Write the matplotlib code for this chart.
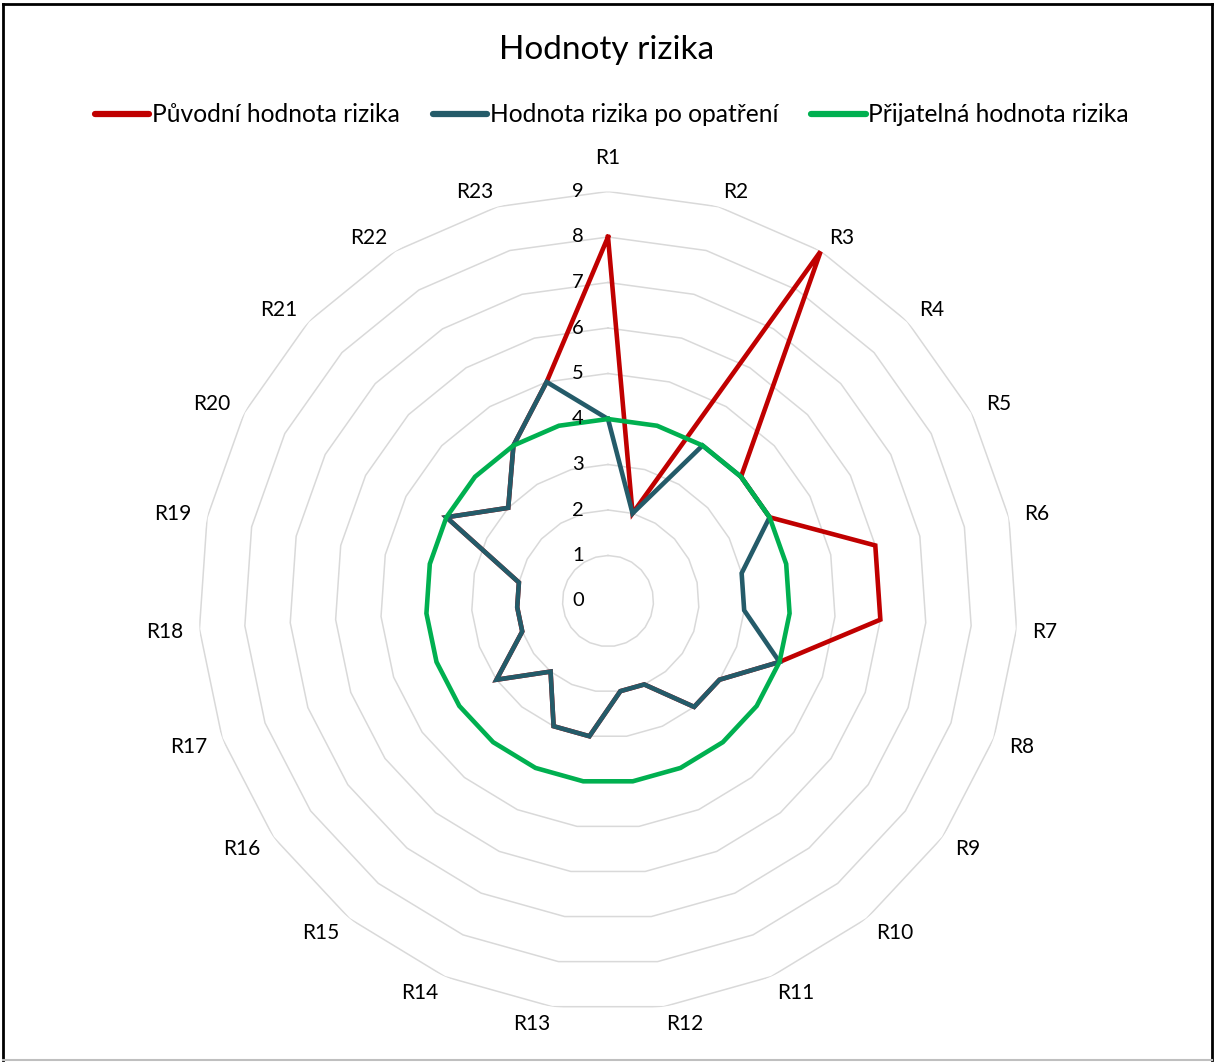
import numpy as np
import matplotlib
matplotlib.use("Agg")
import matplotlib.pyplot as plt
from matplotlib.lines import Line2D

plt.rcParams['font.family'] = ['Lato', 'DejaVu Sans']

# ---- data ----
categories = [f"R{i}" for i in range(1, 24)]
puvodni = [8, 2, 9, 4, 4, 6, 6, 4, 3, 3, 2, 2, 3, 3, 2, 3, 2, 2, 2, 4, 3, 4, 5]
po_opatreni = [4, 2, 4, 4, 4, 3, 3, 4, 3, 3, 2, 2, 3, 3, 2, 3, 2, 2, 2, 4, 3, 4, 5]
prijatelna = [4] * 23
radial_ticks = [0, 1, 2, 3, 4, 5, 6, 7, 8, 9]
series_names = ["Původní hodnota rizika", "Hodnota rizika po opatření",
                "Přijatelná hodnota rizika"]
series_colors = ["#C00000", "#245B69", "#00B050"]

W, H = 1214, 1062
fig = plt.figure(figsize=(W / 100, H / 100), dpi=100)

cx, cy, R = 608, 601, 409.5
ax = fig.add_axes([(cx - R) / W, (H - cy - R) / H, 2 * R / W, 2 * R / H],
                  projection='polar')
ax.set_theta_offset(np.pi / 2)
ax.set_theta_direction(-1)
rmax = max(radial_ticks)
ax.set_ylim(0, rmax)
ax.grid(False)
ax.spines['polar'].set_visible(False)
ax.set_yticks([])
ax.set_xticks([])

n = len(categories)
angles = np.arange(n) * 2 * np.pi / n
closed = np.append(angles, angles[0])

# polygon gridlines
for r in radial_ticks[1:]:
    ax.plot(closed, [r] * (n + 1), color="#D9D9D9", lw=1.1, zorder=1)

# category labels, placed outside the outer ring like Excel does
renderer = fig.canvas.get_renderer()
gap_x, gap_y, half_h = 16.0, 12.0, 4.0
for a, lab in zip(angles, categories):
    t = fig.text(0, 0, lab, fontsize=15)
    w = t.get_window_extent(renderer).width
    t.remove()
    s, c = np.sin(a), np.cos(a)
    fx = np.clip(8 * s, -1, 1)
    fy = np.clip(3 * c, -1, 1)
    dx = gap_x * s + w / 2 * fx
    dy = gap_y * c + half_h * fy - 1
    if abs(s) < 1e-6 and c > 0:
        dy += 18  # clearance for the value-axis labels
    ax.annotate(lab, xy=(a, rmax), xytext=(dx, dy), textcoords='offset pixels',
                ha='center', va='center', fontsize=15, annotation_clip=False)

# radial labels
for r in radial_ticks:
    ax.annotate(str(r), xy=(0, r), xytext=(-30, 0), textcoords='offset pixels',
                ha='center', va='center', fontsize=14.5, color='black', zorder=5)

handles = []
for vals, name, col in zip([puvodni, po_opatreni, prijatelna], series_names, series_colors):
    v = list(vals) + [vals[0]]
    ax.plot(closed, v, color=col, lw=3.3, label=name, zorder=3,
            solid_joinstyle='miter')
    handles.append(Line2D([0], [0], color=col, lw=4.5, solid_capstyle='round'))

fig.text(0.5, 1 - 50 / H, "Hodnoty rizika", ha='center', va='center', fontsize=24)

fig.legend(handles, series_names, loc='center', bbox_to_anchor=(0.504, 1 - 115 / H),
           ncol=3, frameon=False, fontsize=17.7, handlelength=2.2,
           handletextpad=0.12, columnspacing=1.35)

# border
fig.add_artist(Line2D([3 / W, 3 / W], [2 / H, 1 - 4 / H], transform=fig.transFigure, color='black', lw=2))
fig.add_artist(Line2D([3 / W, 1 - 2 / W], [1 - 4 / H, 1 - 4 / H], transform=fig.transFigure, color='black', lw=2))
fig.add_artist(Line2D([1 - 2 / W, 1 - 2 / W], [2 / H, 1 - 4 / H], transform=fig.transFigure, color='black', lw=2))
fig.add_artist(Line2D([3 / W, 1 - 2 / W], [2 / H, 2 / H], transform=fig.transFigure, color='#BFBFBF', lw=1.5))

fig.savefig("out.png", dpi=100)
